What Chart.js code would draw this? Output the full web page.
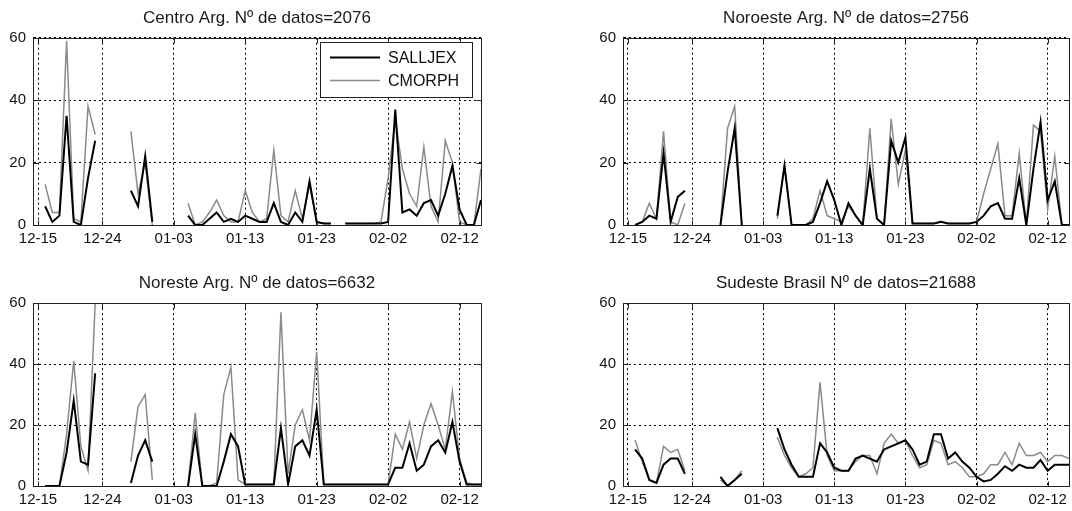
<!DOCTYPE html>
<html>
<head>
<meta charset="utf-8">
<script src="https://cdn.jsdelivr.net/npm/chart.js@4.4.0/dist/chart.umd.min.js"></script>
<style>
  body { margin: 0; background: #fff; width: 1072px; height: 511px; position: relative; overflow: hidden; }
  canvas { position: absolute; }
</style>
</head>
<body>
<canvas id="c1" width="536" height="260" style="left:0;top:0"></canvas>
<canvas id="c2" width="482" height="260" style="left:590px;top:0"></canvas>
<canvas id="c3" width="536" height="251" style="left:0;top:260px"></canvas>
<canvas id="c4" width="482" height="251" style="left:590px;top:260px"></canvas>
<script>
// days after 12-15 (12-16 .. 02-15)
const days = [1, 2, 3, 4, 5, 6, 7, 8, 9, 10, 11, 12, 13, 14, 15, 16, 17, 18, 19, 20,
  21, 22, 23, 24, 25, 26, 27, 28, 29, 30, 31, 32, 33, 34, 35, 36, 37, 38, 39, 40,
  41, 42, 43, 44, 45, 46, 47, 48, 49, 50, 51, 52, 53, 54, 55, 56, 57, 58, 59, 60, 61, 62];
const tickDays = [0, 9, 19, 29, 39, 49, 59];
const tickLabels = ['12-15', '12-24', '01-03', '01-13', '01-23', '02-02', '02-12'];
const yTicks = [0, 20, 40, 60];

const centroSalljex = [6, 1, 3, 35, 1, 0, 15, 27, null, null, null, null, 11, 6, 22, 1, null, null, null, null,
  3, 0, 0, 2, 4, 1, 2, 1, 3, 2, 1, 1, 7, 1, 0, 4, 1, 14, 1, 0.5,
  0.5, null, 0.5, 0.5, 0.5, 0.5, 0.5, 0.5, 1, 37, 4, 5, 3, 7, 8, 3, 10, 19, 5, 0, 0, 8];
const centroCmorph = [13, 4, 4, 59, 2, 1, 38, 29, null, null, null, null, 30, 10, 20, 0, null, null, null, null,
  7, 0, 1, 4, 8, 3, 1, 1, 11, 4, 1, 2, 24, 3, 1, 11, 2, 13, 1, 0.5,
  0.5, null, 0.5, 0.5, 0.5, 0.5, 0.5, 1, 15, 34, 18, 10, 6, 25, 6, 1, 27, 20, 1, 0, 0, 18];

const noroesteSalljex = [0, 1, 3, 2, 23, 1, 9, 11, null, null, null, null, 0, 17, 31, 0, null, null, null, null,
  3, 19, 0, 0, 0, 1, 7, 14, 8, 0, 7, 3, 0, 18, 2, 0, 27, 20, 28, 0.5,
  0.5, 0.5, 0.5, 1, 0.5, 0.5, 0.5, 0.5, 1, 3, 6, 7, 2, 2, 15, 0, 18, 33, 8, 14, 0, 0];
const noroesteCmorph = [0, 1, 7, 2, 30, 1, 0, 7, null, null, null, null, 0, 31, 38, 0, null, null, null, null,
  2, 19, 0, 0, 0, 2, 11, 3, 2, 1, 6, 3, 0, 31, 2, 0, 34, 13, 24, 0.5,
  0.5, 0.5, 0.5, 1, 0.5, 0.5, 0.5, 0.5, 1, 10, 18, 26, 3, 3, 23, 0, 32, 30, 5, 22, 0, 0];

const noresteSalljex = [0, 0, 0, 11, 28, 8, 7, 37, null, null, null, null, 1, 10, 15, 8, null, null, null, null,
  0, 17, 0, 0, 0, 8, 17, 13, 0.5, 0.5, 0.5, 0.5, 0.5, 19, 0.5, 13, 15, 10, 25, 0.5,
  0.5, 0.5, 0.5, 0.5, 0.5, 0.5, 0.5, 0.5, 0.5, 6, 6, 14, 5, 7, 13, 15, 11, 21, 8, 0.5, 0.5, 0.5];
const noresteCmorph = [0, 0, 0, 17, 41, 13, 5, 60, null, null, null, null, 8, 26, 30, 2, null, null, null, null,
  0, 24, 0, 0, 1, 30, 39, 2, 0.5, 0.5, 0.5, 0.5, 0.5, 57, 4, 20, 25, 15, 44, 0.5,
  0.5, 0.5, 0.5, 0.5, 0.5, 0.5, 0.5, 0.5, 0.5, 17, 12, 21, 9, 20, 27, 20, 12, 31, 9, 1, 0.5, 0.5];

const sudesteSalljex = [12, 9, 2, 1, 7, 9, 9, 4, null, null, null, null, 3, 0, 2, 4, null, null, null, null,
  19, 12, 7, 3, 3, 3, 14, 11, 6, 5, 5, 9, 10, 9, 8, 12, 13, 14, 15, 12,
  7, 8, 17, 17, 9, 11, 8, 6, 3, 1.5, 2, 4, 6.5, 5, 7, 6, 6, 8.5, 5, 7, 7, 7];
const sudesteCmorph = [15, 8, 2, 1, 13, 11, 12, 5, null, null, null, null, 2, 0, 2, 5, null, null, null, null,
  16, 10, 6, 3, 4, 6, 34, 10, 5, 5, 5, 8, 10, 10, 4, 14, 17, 14, 15, 10,
  6, 7, 15, 14, 7, 8, 6, 3, 3, 4, 7, 7, 11, 7, 14, 10, 10, 11, 8, 10, 10, 9];

Chart.defaults.font.family = '"Liberation Sans", Arial, sans-serif';
Chart.defaults.color = '#111';

// matlab style box round the axes with small inward ticks
const axesBox = {
  id: 'axesBox',
  afterDatasetsDraw(chart) {
    const { ctx, chartArea: a, scales } = chart;
    const L = Math.round(a.left) + 0.5, R = Math.round(a.right) + 0.5;
    const T = Math.round(a.top) + 0.5, B = Math.round(a.bottom) + 0.5;
    ctx.save();
    ctx.strokeStyle = '#222';
    ctx.lineWidth = 1;
    ctx.beginPath();
    scales.x.ticks.forEach(t => {
      const px = Math.round(scales.x.getPixelForValue(t.value)) + 0.5;
      ctx.moveTo(px, B); ctx.lineTo(px, B - 5);
      ctx.moveTo(px, T); ctx.lineTo(px, T + 5);
    });
    scales.y.ticks.forEach(t => {
      const py = Math.round(scales.y.getPixelForValue(t.value)) + 0.5;
      ctx.moveTo(L, py); ctx.lineTo(L + 5, py);
      ctx.moveTo(R, py); ctx.lineTo(R - 5, py);
    });
    ctx.stroke();
    ctx.strokeRect(L, T, R - L, B - T);
    ctx.restore();
  }
};

const insetLegend = {
  id: 'insetLegend',
  afterDraw(chart, args, o) {
    const { ctx } = chart;
    ctx.save();
    ctx.fillStyle = '#fff';
    ctx.fillRect(o.x, o.y, o.w, o.h);
    ctx.strokeStyle = '#222';
    ctx.lineWidth = 1;
    ctx.strokeRect(o.x + 0.5, o.y + 0.5, o.w, o.h);
    ctx.font = '16px "Liberation Sans", Arial, sans-serif';
    ctx.textBaseline = 'middle';
    chart.data.datasets.forEach((ds, i) => {
      const y = o.y + 15.5 + i * 23;
      ctx.strokeStyle = ds.borderColor;
      ctx.lineWidth = ds.borderWidth;
      ctx.beginPath();
      ctx.moveTo(o.x + 10, y);
      ctx.lineTo(o.x + 60, y);
      ctx.stroke();
      ctx.fillStyle = '#111';
      ctx.fillText(ds.label, o.x + 68, y + 1);
    });
    ctx.restore();
  }
};

function toPoints(vals) {
  return days.map((d, i) => ({ x: d, y: vals[i] }));
}

function makePanel(id, title, salljex, cmorph, top, legend) {
  const plugins = [axesBox];
  if (legend) plugins.push(insetLegend);
  new Chart(document.getElementById(id), {
    type: 'line',
    data: {
      datasets: [
        { label: 'SALLJEX', data: toPoints(salljex), borderColor: '#000', borderWidth: 2,
          pointRadius: 0, tension: 0, spanGaps: false },
        { label: 'CMORPH', data: toPoints(cmorph), borderColor: '#8a8a8a', borderWidth: 1.5,
          pointRadius: 0, tension: 0, spanGaps: false }
      ]
    },
    plugins: plugins,
    options: {
      responsive: false,
      animation: false,
      devicePixelRatio: 1,
      layout: { padding: { right: id === 'c1' || id === 'c3' ? 55 : 1 } },
      plugins: {
        legend: { display: false },
        tooltip: { enabled: false },
        title: {
          display: true,
          text: title,
          fullSize: false,
          color: '#1a1a1a',
          font: { size: 17, weight: 'normal' },
          padding: top ? { top: 8, bottom: 9.3 } : { top: 13, bottom: 9.7 }
        },
        insetLegend: legend || false
      },
      scales: {
        x: {
          type: 'linear',
          min: -0.7,
          max: 62,
          afterBuildTicks: s => { s.ticks = tickDays.map(v => ({ value: v })); },
          afterFit: s => { s.height = top ? 35 : 25; },
          ticks: {
            autoSkip: false, maxRotation: 0, padding: 5,
            font: { size: 15 }, color: '#111',
            callback: (v, i) => tickLabels[i]
          },
          grid: { color: '#000', lineWidth: 1, drawTicks: false },
          border: { color: '#222', dash: [2, 3] }
        },
        y: {
          min: 0,
          max: 60,
          afterBuildTicks: s => { s.ticks = yTicks.map(v => ({ value: v })); },
          afterFit: s => { s.width = 33; },
          ticks: { padding: 7, font: { size: 15 }, color: '#111' },
          grid: { color: '#000', lineWidth: 1, drawTicks: false },
          border: { color: '#222', dash: [2, 3] }
        }
      }
    }
  });
}

makePanel('c1', 'Centro Arg. Nº de datos=2076', centroSalljex, centroCmorph, true,
  { x: 320, y: 42, w: 152, h: 55 });
makePanel('c2', 'Noroeste Arg. Nº de datos=2756', noroesteSalljex, noroesteCmorph, true, null);
makePanel('c3', 'Noreste Arg. Nº de datos=6632', noresteSalljex, noresteCmorph, false, null);
makePanel('c4', 'Sudeste Brasil Nº de datos=21688', sudesteSalljex, sudesteCmorph, false, null);
</script>
</body>
</html>
